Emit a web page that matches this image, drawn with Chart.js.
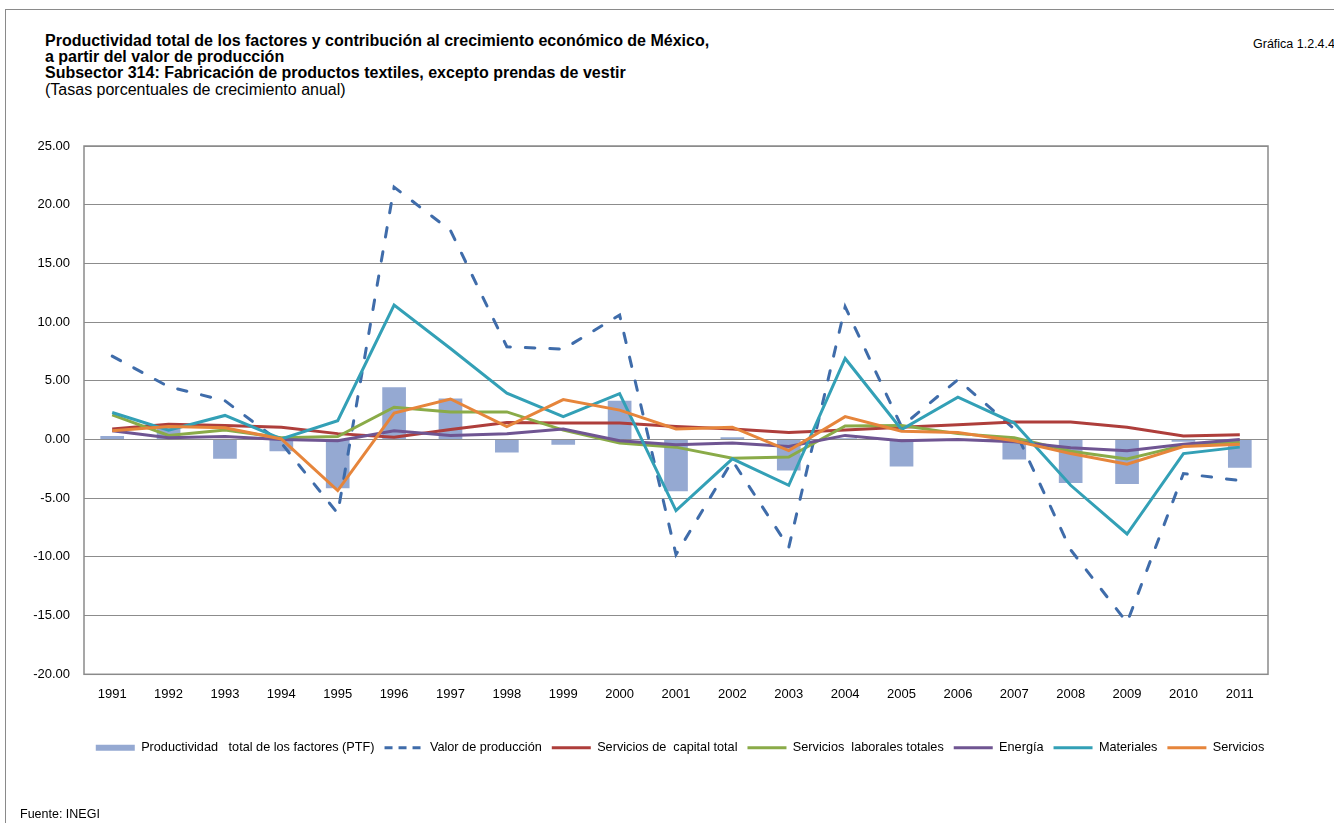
<!DOCTYPE html>
<html lang="es">
<head>
<meta charset="UTF-8">
<title>PTF Subsector 314</title>
<script src="https://cdn.jsdelivr.net/npm/chart.js"></script>
<style>
    html, body { margin: 0; padding: 0; background: #fff; }
    body { width: 1334px; height: 823px; position: relative; overflow: hidden; font-family: "Liberation Sans", Arial, sans-serif; color: #000; }
    .frame { position: absolute; left: 5px; top: 9px; width: 1340px; height: 830px; border-left: 1px solid #8a8a8a; border-top: 1px solid #8a8a8a; }
    .title { position: absolute; left: 45px; top: 32.5px; font-size: 16px; line-height: 16.4px; }
    .title b { font-weight: bold; }
    .code { position: absolute; left: 1253px; top: 37px; font-size: 12.5px; white-space: nowrap; }
    .source { position: absolute; left: 20px; top: 807px; font-size: 12.5px; }
    #wrap { position: absolute; left: 0; top: 0; width: 1334px; height: 823px; }
</style>
</head>
<body>
    <div class="frame"></div>
    <div class="title">
        <b>Productividad total de los factores y contribución al crecimiento económico de México,</b><br>
        <b>a partir del valor de producción</b><br>
        <b>Subsector 314: Fabricación de productos textiles, excepto prendas de vestir</b><br>
        (Tasas porcentuales de crecimiento anual)
    </div>
    <div class="code">Gráfica 1.2.4.4</div>
    <div id="wrap"><canvas id="ptfChart"></canvas></div>
    <div class="source">Fuente: INEGI</div>

<script>
// values
const years = ['1991','1992','1993','1994','1995','1996','1997','1998','1999','2000','2001',
               '2002','2003','2004','2005','2006','2007','2008','2009','2010','2011'];
const ptf        = [0.3, 1.0, -1.65, -1.0, -4.15, 4.45, 3.5, -1.1, -0.45, 3.3, -4.4, 0.2, -2.65, 0.1, -2.3, 0.0, -1.7, -3.7, -3.8, -0.2, -2.4];
const valorProd  = [7.1, 4.5, 3.3, -0.3, -6.3, 21.5, 17.8, 7.9, 7.7, 10.6, -9.8, -1.8, -9.2, 11.3, 1.1, 5.1, 0.9, -9.4, -15.6, -2.9, -3.5];
const capital    = [0.9, 1.3, 1.2, 1.05, 0.5, 0.2, 0.85, 1.45, 1.4, 1.4, 1.1, 0.9, 0.6, 0.8, 1.05, 1.25, 1.5, 1.5, 1.05, 0.3, 0.4];
const laborales  = [2.1, 0.35, 0.8, 0.15, 0.25, 2.75, 2.35, 2.35, 0.8, -0.3, -0.65, -1.6, -1.5, 1.15, 1.2, 0.5, 0.15, -1.0, -1.65, -0.5, -0.25];
const energia    = [0.75, 0.15, 0.25, 0.0, -0.1, 0.75, 0.35, 0.5, 0.9, -0.1, -0.45, -0.3, -0.6, 0.35, -0.1, 0.0, -0.2, -0.7, -0.95, -0.4, 0.0];
const materiales = [2.3, 0.8, 2.05, 0.05, 1.6, 11.45, 7.75, 3.95, 1.95, 3.9, -6.05, -1.65, -3.9, 6.9, 0.85, 3.6, 1.4, -3.9, -8.05, -1.2, -0.65];
const servicios  = [0.75, 1.1, 1.0, 0.05, -4.35, 2.25, 3.45, 1.1, 3.4, 2.5, 0.9, 1.05, -0.95, 1.95, 0.7, 0.6, -0.1, -1.2, -2.1, -0.6, -0.4];

const yMin = -20, yMax = 25, yStep = 5;

const FONT = '"Liberation Sans", Arial, sans-serif';
Chart.defaults.font.family = FONT;
Chart.defaults.color = '#000';

function lineSet(label, data, color, order, dash) {
    return {
        type: 'line',
        label: label,
        data: data,
        borderColor: color,
        backgroundColor: color,
        borderWidth: 3,
        borderDash: dash || [],
        borderCapStyle: dash ? 'round' : 'butt',
        pointRadius: 0,
        pointHoverRadius: 0,
        tension: 0,
        fill: false,
        order: order,
        pointStyle: 'line'
    };
}

// thin frame around the plot area
const plotFrame = {
    id: 'plotFrame',
    afterDraw(chart) {
        const a = chart.chartArea, c = chart.ctx;
        c.save();
        c.strokeStyle = '#8a8a8a';
        c.lineWidth = 1.5;
        c.strokeRect(a.left, a.top, a.right - a.left, a.bottom - a.top);
        c.restore();
    }
};

// keep legend in dataset order and carry the line dash / width over
function legendLabels(chart) {
    const items = Chart.defaults.plugins.legend.labels.generateLabels(chart);
    items.forEach(it => {
        const ds = chart.data.datasets[it.datasetIndex];
        if (ds.type === 'line') {
            it.lineDash = ds.borderDash.length ? [8, 6] : [];
            it.lineWidth = 3;
            it.lineCap = 'butt';
            it.strokeStyle = ds.borderColor;
        } else {
            it.lineWidth = 0;
        }
    });
    return items.sort((a, b) => a.datasetIndex - b.datasetIndex);
}

new Chart(document.getElementById('ptfChart'), {
    data: {
        labels: years,
        datasets: [
            {
                type: 'bar',
                label: 'Productividad   total de los factores (PTF)',
                data: ptf,
                backgroundColor: '#95A9D2',
                borderWidth: 0,
                barPercentage: 0.42,
                categoryPercentage: 1.0,
                order: 10,
                pointStyle: 'rect'
            },
            lineSet('Valor de producción', valorProd, '#3F6CAA', 6, [9.5, 15]),
            lineSet('Servicios de  capital total', capital, '#AE3E3B', 5),
            lineSet('Servicios  laborales totales', laborales, '#8AAB48', 4),
            lineSet('Energía', energia, '#6F5592', 3),
            lineSet('Materiales', materiales, '#33A0B6', 2),
            lineSet('Servicios', servicios, '#E6853B', 1)
        ]
    },
    options: {
        responsive: true,
        maintainAspectRatio: false,
        animation: false,
        layout: { padding: { left: 26, right: 0, top: 146, bottom: 59 } },
        plugins: {
            tooltip: { enabled: false },
            legend: {
                position: 'bottom',
                labels: {
                    usePointStyle: true,
                    pointStyleWidth: 39,
                    boxHeight: 6,
                    padding: 10,
                    font: { size: 12.7, family: FONT },
                    color: '#000',
                    generateLabels: legendLabels
                }
            }
        },
        scales: {
            x: {
                grid: { display: false, drawTicks: false },
                border: { display: false },
                ticks: { padding: 12, font: { size: 13, family: FONT }, color: '#000', maxRotation: 0 },
                afterFit(scale) { scale.height = 57; }
            },
            y: {
                min: yMin,
                max: yMax,
                grid: { color: '#8c8c8c', lineWidth: 1, drawTicks: false },
                border: { display: false },
                ticks: {
                    stepSize: yStep,
                    padding: 14,
                    font: { size: 13, family: FONT },
                    color: '#000',
                    callback: v => v.toFixed(2)
                },
                afterFit(scale) { scale.width = 58; }
            },
            // empty axis on the right, only reserves the margin beside the plot
            yRight: {
                position: 'right',
                min: yMin,
                max: yMax,
                grid: { display: false, drawTicks: false },
                border: { display: false },
                ticks: { display: false },
                afterFit(scale) { scale.width = 66; }
            }
        }
    },
    plugins: [plotFrame]
});
</script>
</body>
</html>
